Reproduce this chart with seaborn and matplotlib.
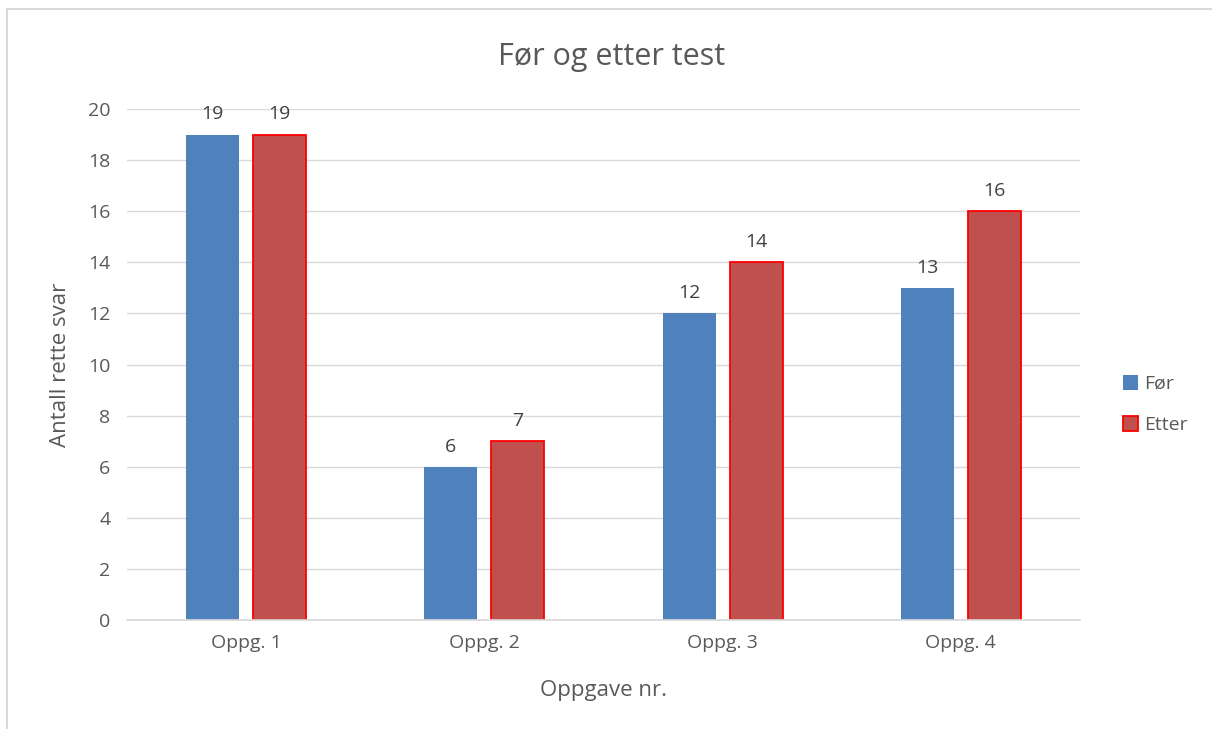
import numpy as np
import pandas as pd
import matplotlib
matplotlib.use("Agg")
import matplotlib.pyplot as plt
import seaborn as sns
from matplotlib.patches import Rectangle, Patch

# data
oppgaver = ["Oppg. 1", "Oppg. 2", "Oppg. 3", "Oppg. 4"]
for_verdier = [19, 6, 12, 13]
etter_verdier = [19, 7, 14, 16]
serier = ["Før", "Etter"]

df = pd.DataFrame({
    "Oppgave": oppgaver * 2,
    "Antall": for_verdier + etter_verdier,
    "Serie": [serier[0]] * 4 + [serier[1]] * 4,
})

sns.set_theme(style="white")
plt.rcParams["font.family"] = ["Open Sans", "DejaVu Sans"]
txt = "#595959"

fig = plt.figure(figsize=(12.12, 7.29), dpi=100)
ax = fig.add_axes([0.1048, 0.1495, 0.7862, 0.701])

farger = {"Før": "#4F81BD", "Etter": "#C0504D"}
sns.barplot(data=df, x="Oppgave", y="Antall", hue="Serie", palette=farger,
            width=0.563, gap=0.21, ax=ax, legend=False, saturation=1)

# red edge on the "Etter" bars
for container, serie in zip(ax.containers, serier):
    for bar in container:
        if serie == "Etter":
            bar.set_edgecolor("#FF0000")
            bar.set_linewidth(1.3)
        else:
            bar.set_edgecolor("none")
    ax.bar_label(container, fmt="%d", padding=8, fontsize=14, color="#404040")

ax.set_ylim(0, 20)
ax.set_yticks(range(0, 21, 2))
ax.yaxis.grid(True, color="#D9D9D9", linewidth=1)
ax.set_axisbelow(True)
for s in ["top", "right", "left"]:
    ax.spines[s].set_visible(False)
ax.spines["bottom"].set_color("#D9D9D9")
ax.tick_params(axis="both", colors=txt, labelsize=14, length=0, pad=12)
ax.tick_params(axis="x", pad=10)

ax.set_xlabel("Oppgave nr.", fontsize=16, color=txt, labelpad=20)
ax.set_ylabel("Antall rette svar", fontsize=16, color=txt, labelpad=12)
fig.text(0.505, 0.922, "Før og etter test", ha="center", va="center",
         fontsize=22, color=txt)

handles = [Patch(facecolor=farger["Før"], edgecolor="none"),
           Patch(facecolor=farger["Etter"], edgecolor="#FF0000", linewidth=1.3)]
leg = fig.legend(handles, serier, loc="center left", bbox_to_anchor=(0.912, 0.445),
                 frameon=False, fontsize=14, handlelength=0.8, handleheight=0.8,
                 handletextpad=0.3, labelspacing=1.2, labelcolor=txt)

# outer chart frame
fig.patches.append(Rectangle((7 / 1212, -0.1), 1.2, 1 - 9 / 729 + 0.1,
                             transform=fig.transFigure, fill=False,
                             edgecolor="#D9D9D9", linewidth=1.5))

fig.savefig("out.png", dpi=100)
